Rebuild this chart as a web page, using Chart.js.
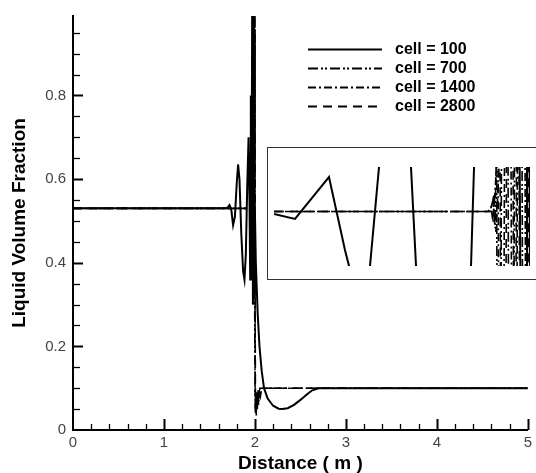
<!DOCTYPE html>
<html>
<head>
<meta charset="utf-8">
<script src="https://cdn.jsdelivr.net/npm/chart.js@4/dist/chart.umd.min.js"></script>
<style>
  html, body { margin: 0; padding: 0; background: #fff; overflow: hidden; width: 536px; height: 473px; }
  #main { position: absolute; left: 0; top: 0; }
  #inset { position: absolute; left: 268px; top: 148px; }
  #insetBox { position: absolute; left: 267px; top: 147px; width: 300px; height: 133px; box-sizing: border-box; border: 1.5px solid #333; pointer-events: none; }
</style>
</head>
<body>
<canvas id="main" width="536" height="473"></canvas>
<canvas id="inset" width="280" height="131"></canvas>
<div id="insetBox"></div>
<script>
// ---------- data (main plot) ----------
const seriesLabels = ['cell = 100', 'cell = 700', 'cell = 1400', 'cell = 2800'];

const x100 = [0, 1.68, 1.70, 1.72, 1.74, 1.76, 1.78, 1.80, 1.815, 1.83, 1.85, 1.87, 1.885, 1.90, 1.915, 1.93, 1.94, 1.948, 1.955, 1.962, 1.97, 1.978, 1.985, 1.99, 1.995, 2.0, 2.01, 2.03, 2.05, 2.075, 2.10, 2.14, 2.20, 2.26, 2.30, 2.36, 2.43, 2.50, 2.57, 2.63, 2.70, 2.75, 5.0];
const y100 = [0.53, 0.53, 0.532, 0.538, 0.527, 0.49, 0.51, 0.59, 0.635, 0.60, 0.47, 0.38, 0.36, 0.42, 0.58, 0.70, 0.55, 0.36, 0.80, 0.40, 1.05, 0.30, 1.05, 0.35, 0.95, 0.55, 0.40, 0.28, 0.20, 0.14, 0.10, 0.075, 0.058, 0.051, 0.05, 0.052, 0.06, 0.072, 0.085, 0.095, 0.10, 0.10, 0.10];

const x700 = [0, 1.95, 1.958, 1.962, 1.966, 1.97, 1.974, 1.978, 1.982, 1.986, 1.99, 1.994, 1.998, 2.002, 2.006, 2.01, 2.015, 2.02, 2.026, 2.032, 2.04, 2.05, 2.06, 2.075, 5.0];
const y700 = [0.53, 0.53, 0.58, 0.45, 0.72, 0.38, 0.88, 0.33, 1.05, 0.40, 1.05, 0.55, 0.25, 0.08, 0.05, 0.09, 0.045, 0.08, 0.05, 0.085, 0.06, 0.09, 0.08, 0.10, 0.10];

const x1400 = [0, 1.96, 1.965, 1.969, 1.973, 1.977, 1.981, 1.985, 1.989, 1.993, 1.997, 2.001, 2.004, 2.008, 2.012, 2.017, 2.022, 2.028, 2.035, 2.045, 2.055, 2.07, 5.0];
const y1400 = [0.53, 0.53, 0.62, 0.43, 0.80, 0.36, 1.05, 0.30, 1.05, 0.45, 1.05, 0.30, 0.07, 0.04, 0.08, 0.05, 0.09, 0.06, 0.095, 0.08, 0.10, 0.10, 0.10];

const x2800 = [0, 1.965, 1.969, 1.973, 1.977, 1.981, 1.985, 1.989, 1.993, 1.997, 2.0, 2.003, 2.006, 2.01, 2.015, 2.02, 2.025, 2.032, 2.04, 2.05, 2.065, 5.0];
const y2800 = [0.53, 0.53, 0.65, 0.40, 0.85, 0.35, 1.05, 0.33, 1.05, 0.60, 1.05, 0.25, 0.04, 0.07, 0.035, 0.075, 0.05, 0.09, 0.07, 0.10, 0.10, 0.10];

// axis ranges / ticks
const xMin = 0, xMax = 5, xMinorStep = 0.2, xMajorStep = 1;
const yMin = 0, yMax = 0.99, yMinorStep = 0.05, yMajorStep = 0.2;
const xTitle = 'Distance ( m )';
const yTitle = 'Liquid Volume Fraction';

// ---------- data (inset, magnified view) ----------
const insetX100 = [1.6000, 1.6328, 1.6859, 1.7109, 1.7172, 1.7219, 1.7466, 1.7672, 1.8123, 1.8238, 1.9067, 1.9136, 1.9836, 1.9852, 1.9945, 1.9953, 1.9992, 2.0];
const insetY100 = [0.5285, 0.5255, 0.5509, 0.5067, 0.4970, 0.4825, 0.4825, 0.5703, 0.5703, 0.4825, 0.4825, 0.5703, 0.5703, 0.4825, 0.4825, 0.5703, 0.5703, 0.4825];

const insetX700 = [1.6, 1.9375, 1.9422, 1.9453, 1.9477, 1.9484, 1.9547, 1.9555, 1.9656, 1.9664, 1.9750, 1.9758, 1.9875, 1.9883];
const insetY700 = [0.53, 0.53, 0.537, 0.520, 0.5703, 0.4825, 0.4825, 0.5703, 0.5703, 0.4825, 0.4825, 0.5703, 0.5703, 0.4825];

const insetX1400 = [1.6, 1.9344, 1.9391, 1.9422, 1.9500, 1.9508, 1.9594, 1.9602, 1.9703, 1.9711, 1.9797, 1.9805, 1.9922, 1.9930];
const insetY1400 = [0.53, 0.53, 0.5328, 0.5237, 0.5703, 0.4825, 0.4825, 0.5703, 0.5703, 0.4825, 0.4825, 0.5703, 0.5703, 0.4825];

const insetX2800 = [1.6, 1.9406, 1.9438, 1.9469, 1.9531, 1.9539, 1.9625, 1.9633, 1.9734, 1.9742, 1.9781, 1.9789, 1.9828, 1.9836, 1.9969, 1.9977];
const insetY2800 = [0.53, 0.53, 0.5412, 0.5176, 0.5703, 0.4825, 0.4825, 0.5703, 0.5703, 0.4825, 0.4825, 0.5703, 0.5703, 0.4825, 0.4825, 0.5703];

const insetXRange = [1.6, 2.0];
const insetYRange = [0.497, 0.557];

// ---------- styles ----------
const dashes = [[], [10, 3, 2, 2, 2, 3], [8, 3, 2, 3], [9, 6]];
const widths = [2, 1.6, 1.6, 1.6];

function pts(xs, ys) { return xs.map((x, i) => ({ x: x, y: ys[i] })); }

function makeDatasets(sets) {
  return sets.map((s, i) => ({
    label: seriesLabels[i],
    data: pts(s[0], s[1]),
    borderColor: '#000',
    backgroundColor: '#000',
    borderWidth: widths[i],
    borderDash: dashes[i],
    pointRadius: 0,
    fill: false,
    tension: 0,
    order: i
  }));
}

const FONT = "'Liberation Sans', Arial, Helvetica, sans-serif";

// inward tick marks drawn through the chart's own scales
const inwardTicks = {
  id: 'inwardTicks',
  afterDatasetsDraw(chart) {
    const { ctx, chartArea: a } = chart;
    const xs = chart.scales.x, ys = chart.scales.y;
    ctx.save();
    ctx.strokeStyle = '#000';
    const nY = Math.floor(yMax / yMinorStep + 1e-9);
    for (let k = 1; k <= nY; k++) {
      const v = k * yMinorStep;
      const p = Math.round(ys.getPixelForValue(v)) + 0.5;
      const major = Math.abs(v / yMajorStep - Math.round(v / yMajorStep)) < 1e-6;
      ctx.lineWidth = major ? 2 : 1.3;
      ctx.beginPath();
      ctx.moveTo(a.left, p);
      ctx.lineTo(a.left + (major ? 10 : 7), p);
      ctx.stroke();
    }
    const nX = Math.round((xMax - xMin) / xMinorStep);
    for (let k = 1; k <= nX; k++) {
      const v = xMin + k * xMinorStep;
      const p = Math.round(xs.getPixelForValue(v)) + 0.5;
      const major = Math.abs(v / xMajorStep - Math.round(v / xMajorStep)) < 1e-6;
      ctx.lineWidth = major ? 2 : 1.3;
      ctx.beginPath();
      ctx.moveTo(p, a.bottom);
      ctx.lineTo(p, a.bottom - (major ? 11 : 6));
      ctx.stroke();
    }
    ctx.restore();
  }
};

// legend drawn inside the plot area from the datasets' own labels and styles
const innerLegend = {
  id: 'innerLegend',
  afterDraw(chart) {
    const ctx = chart.ctx;
    const lineX0 = 308, lineX1 = 382, textX = 395, rowY0 = 48.5, rowH = 19.2;
    ctx.save();
    chart.data.datasets.forEach((ds, i) => {
      const y = Math.round(rowY0 + i * rowH) + 0.5;
      ctx.strokeStyle = ds.borderColor;
      ctx.lineWidth = 2;
      ctx.setLineDash(ds.borderDash || []);
      ctx.beginPath();
      ctx.moveTo(lineX0, y);
      ctx.lineTo(lineX1, y);
      ctx.stroke();
      ctx.setLineDash([]);
      ctx.fillStyle = '#000';
      ctx.font = 'bold 16px ' + FONT;
      ctx.textBaseline = 'middle';
      ctx.textAlign = 'left';
      ctx.fillText(ds.label, textX, y);
    });
    ctx.restore();
  }
};

new Chart(document.getElementById('main'), {
  type: 'line',
  data: {
    datasets: makeDatasets([[x100, y100], [x700, y700], [x1400, y1400], [x2800, y2800]])
  },
  options: {
    responsive: false,
    animation: false,
    devicePixelRatio: 1,
    layout: { padding: { top: 14, right: 6, left: 0, bottom: 0 } },
    plugins: { legend: { display: false }, tooltip: { enabled: false } },
    scales: {
      x: {
        type: 'linear', min: xMin, max: xMax,
        grid: { display: false, drawTicks: false, tickLength: 0 },
        border: { display: true, color: '#000', width: 2 },
        ticks: {
          stepSize: xMinorStep, autoSkip: false, maxRotation: 0, padding: 4,
          color: '#444', font: { family: FONT, size: 15 },
          callback: (v) => Math.abs(v / xMajorStep - Math.round(v / xMajorStep)) < 1e-6 ? String(Math.round(v)) : ''
        },
        title: { display: true, text: xTitle, color: '#000', padding: { top: 0, bottom: 0 },
                 font: { family: FONT, size: 19, weight: 'bold', lineHeight: 1 } },
        afterFit: (s) => { s.height = 43; }
      },
      y: {
        type: 'linear', min: yMin, max: yMax,
        grid: { display: false, drawTicks: false, tickLength: 0 },
        border: { display: true, color: '#000', width: 2 },
        ticks: {
          stepSize: yMinorStep, autoSkip: false, padding: 7,
          color: '#444', font: { family: FONT, size: 15 },
          callback: (v) => {
            if (v > 0.96) return '';
            const r = v / yMajorStep;
            if (Math.abs(r - Math.round(r)) > 1e-6) return '';
            return v === 0 ? '0' : v.toFixed(1);
          }
        },
        title: { display: true, text: yTitle, color: '#000', padding: { top: 8, bottom: 0 },
                 font: { family: FONT, size: 19, weight: 'bold', lineHeight: 1.2 } },
        afterFit: (s) => { s.width = 73; }
      }
    }
  },
  plugins: [inwardTicks, innerLegend]
});

new Chart(document.getElementById('inset'), {
  type: 'line',
  data: {
    datasets: makeDatasets([[insetX100, insetY100], [insetX700, insetY700], [insetX1400, insetY1400], [insetX2800, insetY2800]])
  },
  options: {
    responsive: false,
    animation: false,
    devicePixelRatio: 1,
    layout: { padding: { left: 6, top: 19, right: 18, bottom: 13 } },
    plugins: { legend: { display: false }, tooltip: { enabled: false } },
    scales: {
      x: { type: 'linear', min: insetXRange[0], max: insetXRange[1], display: false },
      y: { type: 'linear', min: insetYRange[0], max: insetYRange[1], display: false }
    }
  }
});
</script>
</body>
</html>
